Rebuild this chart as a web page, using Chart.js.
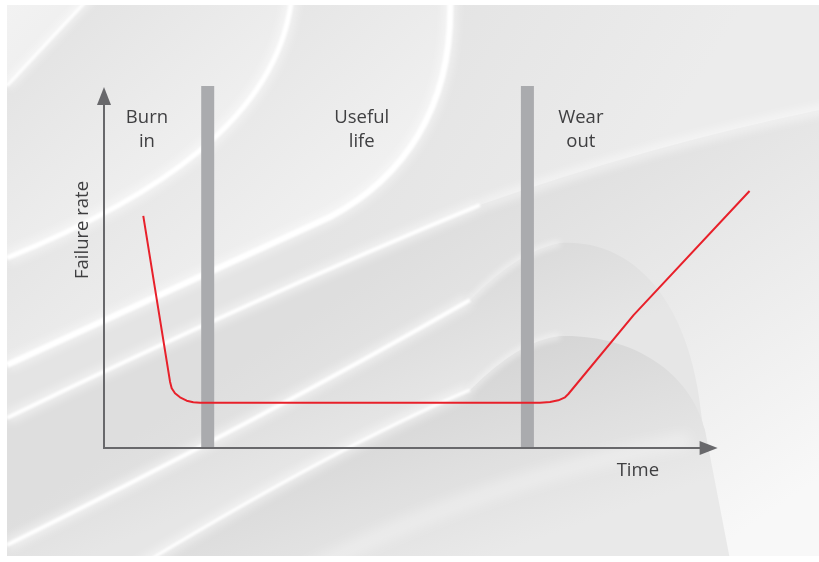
<!DOCTYPE html>
<html>
<head>
<meta charset="utf-8">
<script src="https://cdn.jsdelivr.net/npm/chart.js@4/dist/chart.umd.min.js"></script>
<style>
  html, body { margin: 0; padding: 0; background: #ffffff; }
  #wrap { width: 819px; height: 562px; position: relative; }
</style>
</head>
<body>
<div id="wrap"><canvas id="c" width="819" height="562"></canvas></div>
<script>
// ---- data ----
const curveX = [6.4, 10.76, 11.03, 11.57, 12.39, 13.47, 14.55, 15.65, 71.06, 72.69, 74.04, 75.13, 75.67, 86.3, 105.2];
const curveY = [64.3, 18.37, 16.54, 15.15, 14.04, 13.1, 12.66, 12.55, 12.55, 12.74, 13.21, 14.04, 14.96, 36.8, 71.2];
const phaseBoundaries = [16.9, 69.0];
const phaseLabelX = [7.0, 42.0, 77.7];
const phaseLabels = [["Burn", "in"], ["Useful", "life"], ["Wear", "out"]];
const xAxisTitle = "Time";
const yAxisTitle = "Failure rate";
const axisMax = [100, 100];   // x, y ends of the arrowed axes
const xTitlePos = 87.0;
const yTitlePos = 60.4;

// ---- background decoration (abstract curved sheets) ----
function makePath(segs) {
  const p = new Path2D();
  segs.forEach(s => {
    if (s[0] === 'M') p.moveTo(s[1], s[2]);
    else if (s[0] === 'L') p.lineTo(s[1], s[2]);
    else if (s[0] === 'Q') p.quadraticCurveTo(s[1], s[2], s[3], s[4]);
    else if (s[0] === 'C') p.bezierCurveTo(s[1], s[2], s[3], s[4], s[5], s[6]);
  });
  return p;
}
function region(segs, closing) {
  return makePath(segs.concat(closing));
}
function drawBackground(ctx) {
  ctx.save();
  ctx.beginPath(); ctx.rect(7, 5, 812, 551); ctx.clip();
  let g = ctx.createLinearGradient(7, 556, 819, 5);
  g.addColorStop(0, '#d8d8d8'); g.addColorStop(0.5, '#e6e6e6'); g.addColorStop(1, '#e4e4e4');
  ctx.fillStyle = g; ctx.fillRect(7, 5, 812, 551);

  const A = [['M', 7, 86], ['Q', 45, 45, 92, -5]];
  const B = [['M', 7, 258], ['C', 150, 200, 280, 120, 292, -5]];
  const C = [['M', 7, 365], ['Q', 170, 290, 330, 217], ['C', 400, 180, 455, 110, 450, -5]];
  const D = [['M', 7, 418], ['Q', 250, 300, 480, 205], ['Q', 650, 145, 830, 108]];
  const E = [['M', 7, 545], ['Q', 260, 420, 470, 300], ['Q', 520, 250, 560, 243], ['C', 625, 238, 690, 290, 702, 420], ['L', 730, 570]];
  const F = [['M', 133, 570], ['Q', 330, 450, 470, 390], ['Q', 520, 340, 560, 336], ['C', 630, 334, 690, 370, 705, 430], ['L', 732, 570]];

  function fillGrad(path, x0, y0, x1, y1, c0, c1) {
    const gr = ctx.createLinearGradient(x0, y0, x1, y1);
    gr.addColorStop(0, c0); gr.addColorStop(1, c1);
    ctx.fillStyle = gr; ctx.fill(path);
  }
  fillGrad(region(A, [['L', -5, -5], ['L', -5, 86]]), 7, 5, 90, 90, '#f2f2f2', '#ececec');
  fillGrad(region(A, [['L', 292, -5], ['C', 280, 120, 150, 200, 7, 258]]), 30, 60, 160, 200, '#e4e4e4', '#f0f0f0');
  fillGrad(region(B, [['L', 450, -5], ['C', 455, 110, 400, 180, 330, 217], ['Q', 170, 290, 7, 365]]), 160, 110, 300, 260, '#e5e5e5', '#f1f1f1');
  fillGrad(region(C, [['L', 830, -5], ['L', 830, 108], ['Q', 650, 145, 480, 205], ['Q', 250, 300, 7, 418]]), 380, 120, 600, 250, '#e4e4e4', '#ececec');
  fillGrad(region(D, [['L', 830, 575], ['L', -5, 575]]), 520, 170, 760, 520, '#dedede', '#f8f8f8');
  fillGrad(region(E, [['L', -5, 575]]), 300, 300, 360, 440, '#d6d6d6', '#e6e6e6');
  fillGrad(region(F, [['L', 133, 575]]), 420, 390, 480, 560, '#d6d6d6', '#e9e9e9');

  function glow(segs, w, alpha, blur) {
    ctx.filter = 'blur(' + blur + 'px)';
    ctx.strokeStyle = 'rgba(255,255,255,' + alpha + ')';
    ctx.lineWidth = w;
    ctx.stroke(makePath(segs));
  }
  glow(A, 10, 0.5, 4); glow(A, 3, 0.95, 0.8);
  glow(B, 14, 0.45, 5); glow(B, 5, 1, 1);
  glow(C, 14, 0.45, 5); glow(C, 6, 1, 1);
  const Dleft = [['M', 7, 418], ['Q', 250, 300, 480, 205]];
  const Eleft = [['M', 7, 545], ['Q', 260, 420, 470, 300]];
  const Fleft = [['M', 133, 570], ['Q', 330, 450, 470, 390]];
  glow(Dleft, 12, 0.5, 5); glow(Dleft, 4, 0.95, 1);
  glow(Eleft, 12, 0.5, 5); glow(Eleft, 4, 0.95, 1);
  glow(Fleft, 12, 0.5, 5); glow(Fleft, 3, 0.9, 1);
  glow([['M', 480, 205], ['Q', 650, 145, 830, 108]], 10, 0.5, 5);
  glow([['M', 470, 300], ['Q', 520, 250, 560, 243]], 6, 0.5, 3);
  glow([['M', 470, 390], ['Q', 520, 340, 560, 336]], 6, 0.5, 3);
  glow([['M', 300, 575], ['Q', 480, 480, 690, 440]], 16, 0.35, 7);
  ctx.filter = 'none';
  ctx.restore();
}

const bgPlugin = {
  id: 'bg',
  beforeDraw(chart) { drawBackground(chart.ctx); }
};

const overlayPlugin = {
  id: 'overlay',
  afterDatasetsDraw(chart) {
    const ctx = chart.ctx, xs = chart.scales.x, ys = chart.scales.y;
    const x0 = xs.getPixelForValue(0), y0 = ys.getPixelForValue(0);
    const xe = xs.getPixelForValue(axisMax[0]), ye = ys.getPixelForValue(axisMax[1]);
    ctx.save();
    ctx.strokeStyle = '#68686b'; ctx.fillStyle = '#68686b'; ctx.lineWidth = 2;
    ctx.beginPath();
    ctx.moveTo(x0, ye + 14); ctx.lineTo(x0, y0); ctx.lineTo(xe - 14, y0);
    ctx.stroke();
    ctx.beginPath(); ctx.moveTo(x0, ye); ctx.lineTo(x0 - 7, ye + 18); ctx.lineTo(x0 + 7, ye + 18); ctx.closePath(); ctx.fill();
    ctx.beginPath(); ctx.moveTo(xe, y0); ctx.lineTo(xe - 18, y0 - 7); ctx.lineTo(xe - 18, y0 + 7); ctx.closePath(); ctx.fill();

    ctx.fillStyle = '#3f3f41';
    ctx.font = '18.5px "Open Sans", sans-serif';
    ctx.textAlign = 'center'; ctx.textBaseline = 'middle';
    const ly = ys.getPixelForValue(axisMax[1]) + 31;
    phaseLabels.forEach((lines, i) => {
      const px = xs.getPixelForValue(phaseLabelX[i]);
      lines.forEach((t, j) => ctx.fillText(t, px, ly + j * 24));
    });
    ctx.fillText(xAxisTitle, xs.getPixelForValue(xTitlePos), y0 + 23);
    ctx.save();
    ctx.translate(x0 - 21, ys.getPixelForValue(yTitlePos));
    ctx.rotate(-Math.PI / 2);
    ctx.fillText(yAxisTitle, 0, 0);
    ctx.restore();
    ctx.restore();
  }
};

const datasets = [{
  label: 'Failure rate',
  data: curveX.map((x, i) => ({ x: x, y: curveY[i] })),
  borderColor: '#e8202a',
  borderWidth: 2,
  pointRadius: 0,
  showLine: true,
  tension: 0,
  borderJoinStyle: 'round',
  clip: false,
  order: 0
}];
phaseBoundaries.forEach((b) => {
  datasets.push({
    label: 'boundary',
    data: [{ x: b, y: 0 }, { x: b, y: 100.3 }],
    borderColor: '#aaabae',
    borderWidth: 13,
    borderCapStyle: 'butt',
    pointRadius: 0,
    showLine: true,
    clip: false,
    order: 1
  });
});

new Chart(document.getElementById('c'), {
  type: 'scatter',
  data: { datasets },
  options: {
    responsive: false,
    animation: false,
    devicePixelRatio: 1,
    layout: { padding: { left: 104, right: 40, top: 87, bottom: 114 } },
    scales: {
      x: { type: 'linear', min: 0, max: 110, display: false },
      y: { type: 'linear', min: 0, max: 100, display: false }
    },
    plugins: { legend: { display: false }, tooltip: { enabled: false } }
  },
  plugins: [bgPlugin, overlayPlugin]
});
</script>
</body>
</html>
